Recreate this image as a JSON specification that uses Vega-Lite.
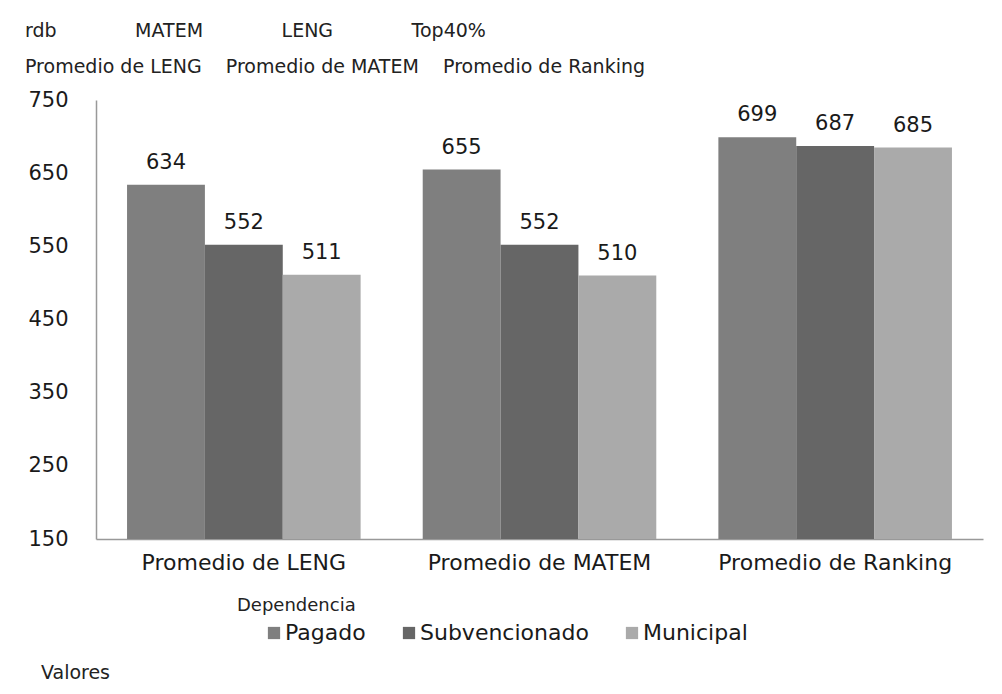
{
  "$schema": "https://vega.github.io/schema/vega-lite/v6.json",
  "autosize": {"type": "none"},
  "width": 887,
  "height": 439,
  "padding": {"left": 96, "top": 100, "right": 19, "bottom": 155},
  "background": "white",
  "title": {
    "text": "rdb\u00a0\u00a0\u00a0\u00a0\u00a0\u00a0\u00a0\u00a0\u00a0\u00a0\u00a0\u00a0\u00a0MATEM\u00a0\u00a0\u00a0\u00a0\u00a0\u00a0\u00a0\u00a0\u00a0\u00a0\u00a0\u00a0\u00a0LENG\u00a0\u00a0\u00a0\u00a0\u00a0\u00a0\u00a0\u00a0\u00a0\u00a0\u00a0\u00a0\u00a0Top40%",
    "subtitle": "\u00a0\u00a0Promedio de LENG\u00a0\u00a0\u00a0\u00a0Promedio de MATEM\u00a0\u00a0\u00a0\u00a0Promedio de Ranking",
    "anchor": "start",
    "frame": "group",
    "dx": -71,
    "offset": 12,
    "font": "DejaVu Sans",
    "fontSize": 19,
    "fontWeight": "normal",
    "color": "#222222",
    "subtitleFont": "DejaVu Sans",
    "subtitleFontSize": 19,
    "subtitleColor": "#222222",
    "subtitlePadding": 17
  },
  "data": {
    "values": [
      {"medida": "Promedio de LENG", "dependencia": "Pagado", "valor": 634},
      {"medida": "Promedio de LENG", "dependencia": "Subvencionado", "valor": 552},
      {"medida": "Promedio de LENG", "dependencia": "Municipal", "valor": 511},
      {"medida": "Promedio de MATEM", "dependencia": "Pagado", "valor": 655},
      {"medida": "Promedio de MATEM", "dependencia": "Subvencionado", "valor": 552},
      {"medida": "Promedio de MATEM", "dependencia": "Municipal", "valor": 510},
      {"medida": "Promedio de Ranking", "dependencia": "Pagado", "valor": 699},
      {"medida": "Promedio de Ranking", "dependencia": "Subvencionado", "valor": 687},
      {"medida": "Promedio de Ranking", "dependencia": "Municipal", "valor": 685}
    ]
  },
  "encoding": {
    "x": {
      "field": "medida",
      "type": "nominal",
      "sort": ["Promedio de LENG", "Promedio de MATEM", "Promedio de Ranking"],
      "scale": {"paddingInner": 0.21, "paddingOuter": 0.105},
      "axis": {
        "title": "Valores",
        "titleAnchor": "start",
        "titleAlign": "center",
        "titleX": -21,
        "titleY": 124,
        "titleFont": "DejaVu Sans",
        "titleFontSize": 19,
        "titleFontWeight": "normal",
        "titleColor": "#222222",
        "labelAngle": 0,
        "labelFont": "DejaVu Sans",
        "labelFontSize": 22,
        "labelLimit": 0,
        "labelColor": "#1a1a1a",
        "labelPadding": 13,
        "ticks": false,
        "domainColor": "#999999",
        "domainWidth": 1.5,
        "grid": false
      }
    },
    "xOffset": {
      "field": "dependencia",
      "type": "nominal",
      "sort": ["Pagado", "Subvencionado", "Municipal"],
      "scale": {"paddingInner": 0, "paddingOuter": 0}
    },
    "y": {
      "field": "valor",
      "type": "quantitative",
      "scale": {"domain": [150, 750], "zero": false, "nice": false},
      "axis": {
        "title": null,
        "values": [150, 250, 350, 450, 550, 650, 750],
        "labelFont": "DejaVu Sans",
        "labelFontSize": 21,
        "labelColor": "#1a1a1a",
        "labelAlign": "left",
        "labelPadding": 68,
        "ticks": false,
        "grid": false,
        "domainColor": "#999999",
        "domainWidth": 1.5
      }
    }
  },
  "layer": [
    {
      "mark": {"type": "bar"},
      "encoding": {
        "y2": {"datum": 150},
        "color": {
          "field": "dependencia",
          "type": "nominal",
          "sort": ["Pagado", "Subvencionado", "Municipal"],
          "scale": {
            "domain": ["Pagado", "Subvencionado", "Municipal"],
            "range": ["#7f7f7f", "#666666", "#aaaaaa"]
          },
          "legend": {
            "title": "Dependencia",
            "orient": "none",
            "legendX": 141,
            "legendY": 497,
            "direction": "horizontal",
            "titleFont": "DejaVu Sans",
            "titleFontSize": 18,
            "titleFontWeight": "normal",
            "titleColor": "#222222",
            "titlePadding": 7,
            "labelFont": "DejaVu Sans",
            "labelFontSize": 22,
            "labelLimit": 0,
            "labelColor": "#1a1a1a",
            "symbolType": "square",
            "symbolSize": 150,
            "symbolStrokeWidth": 0,
            "symbolOpacity": 1,
            "symbolOffset": 26,
            "columnPadding": 6,
            "labelOffset": 0,
            "offset": 0
          }
        }
      }
    },
    {
      "mark": {
        "type": "text",
        "baseline": "bottom",
        "dy": -12,
        "font": "DejaVu Sans",
        "fontSize": 21,
        "color": "#1a1a1a"
      },
      "encoding": {
        "text": {"field": "valor", "type": "quantitative"}
      }
    }
  ],
  "config": {
    "view": {"stroke": null}
  }
}
